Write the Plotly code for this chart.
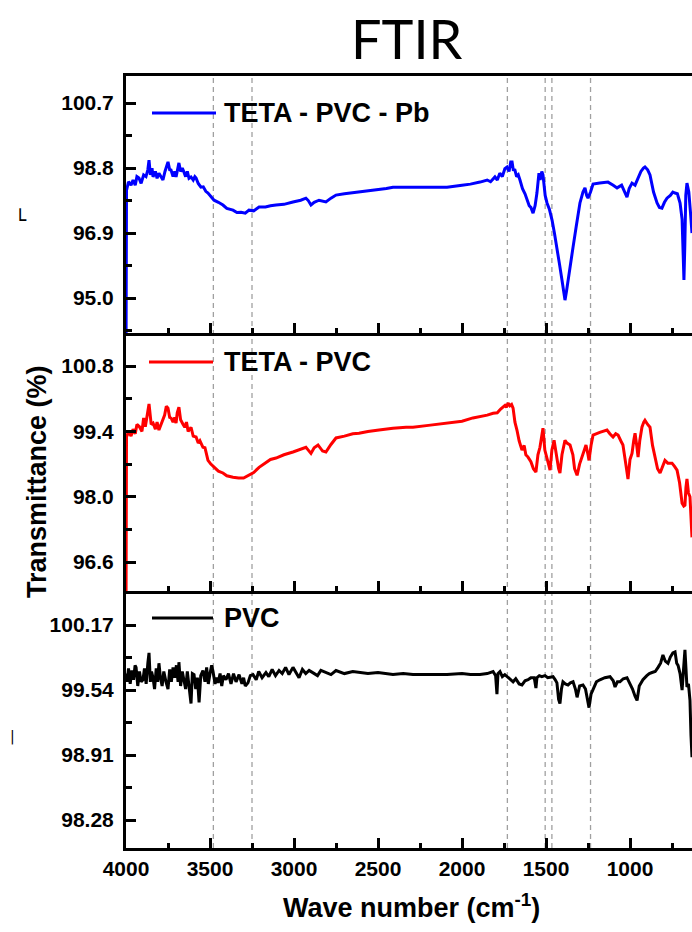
import plotly.graph_objects as go

# ---------------- data ----------------
wn_pb = [4000, 3997, 3985, 3970, 3958, 3945, 3935, 3923, 3910, 3895, 3881, 3870, 3863, 3855, 3845, 3839,
         3825, 3815, 3804, 3792, 3780, 3768, 3750, 3740, 3732, 3720, 3710, 3702, 3692, 3685, 3675, 3665,
         3655, 3645, 3635, 3625, 3613, 3600, 3590, 3583, 3570, 3554, 3540, 3525, 3512, 3495, 3476, 3450,
         3423, 3400, 3380, 3363, 3340, 3315, 3290, 3268, 3240, 3208, 3170, 3140, 3107, 3060, 3006, 2960,
         2929, 2915, 2899, 2880, 2851, 2830, 2810, 2780, 2750, 2700, 2650, 2613, 2560, 2494, 2450, 2411,
         2333, 2292, 2200, 2089, 2000, 1950, 1893, 1850, 1830, 1804, 1790, 1775, 1760, 1745, 1732, 1720,
         1710, 1702, 1695, 1685, 1675, 1665, 1655, 1640, 1625, 1613, 1600, 1590, 1577, 1565, 1554, 1542,
         1535, 1525, 1518, 1505, 1494, 1480, 1464, 1450, 1435, 1420, 1405, 1395, 1387, 1378, 1369, 1355,
         1339, 1320, 1298, 1280, 1268, 1258, 1250, 1235, 1220, 1180, 1131, 1100, 1077, 1050, 1030, 1018,
         1005, 988, 970, 952, 935, 920, 911, 895, 881, 860, 839, 825, 810, 795, 780, 760,
         745, 732, 718, 702, 690, 683, 679, 674, 668, 661, 650, 640, 631]
t_pb = [93.0, 98.15, 98.40, 98.30, 98.45, 98.30, 98.55, 98.51, 98.35, 98.60, 98.55, 98.75, 99.03, 98.60, 98.80, 98.54,
        98.70, 98.50, 98.65, 98.55, 98.45, 98.70, 98.98, 98.75, 98.74, 98.55, 98.70, 98.54, 98.80, 98.95, 98.70, 98.80,
        98.68, 98.55, 98.70, 98.50, 98.54, 98.45, 98.55, 98.51, 98.35, 98.24, 98.25, 98.12, 98.07, 97.98, 97.86, 97.80,
        97.72, 97.62, 97.60, 97.57, 97.50, 97.51, 97.48, 97.57, 97.55, 97.66, 97.66, 97.70, 97.72, 97.74, 97.81, 97.86,
        97.92, 97.85, 97.72, 97.80, 97.86, 97.84, 97.81, 97.92, 98.01, 98.05, 98.08, 98.10, 98.13, 98.16, 98.20, 98.24,
        98.24, 98.24, 98.24, 98.24, 98.30, 98.33, 98.39, 98.45, 98.40, 98.54, 98.45, 98.65, 98.55, 98.78, 98.83, 98.70,
        98.98, 98.98, 98.75, 98.74, 98.55, 98.60, 98.45, 98.20, 98.05, 97.86, 97.70, 97.65, 97.48, 97.70, 98.07, 98.65,
        98.45, 98.70, 98.60, 98.00, 97.78, 97.60, 97.28, 96.90, 96.49, 96.00, 95.53, 95.10, 94.94, 95.20, 95.53, 96.00,
        96.49, 97.10, 97.78, 98.10, 98.22, 98.00, 97.92, 98.10, 98.33, 98.36, 98.39, 98.30, 98.22, 98.30, 98.05, 97.95,
        98.20, 98.36, 98.30, 98.51, 98.70, 98.80, 98.83, 98.75, 98.60, 98.10, 97.78, 97.65, 97.63, 97.80, 97.92, 98.00,
        98.10, 98.07, 98.05, 97.78, 97.30, 96.20, 95.53, 96.50, 98.00, 98.36, 98.10, 97.50, 96.90]

wn_teta = [4000, 3997, 3985, 3970, 3958, 3945, 3935, 3920, 3905, 3895, 3885, 3872, 3863, 3850, 3839, 3825,
           3815, 3804, 3790, 3780, 3770, 3760, 3750, 3740, 3732, 3720, 3710, 3702, 3695, 3685, 3675, 3660,
           3650, 3640, 3630, 3613, 3600, 3583, 3570, 3560, 3542, 3530, 3512, 3495, 3476, 3450, 3423, 3400,
           3363, 3330, 3300, 3270, 3240, 3208, 3170, 3140, 3107, 3060, 3006, 2960, 2929, 2915, 2899, 2880,
           2857, 2830, 2810, 2780, 2750, 2700, 2650, 2613, 2560, 2494, 2411, 2333, 2292, 2200, 2089, 2000,
           1935, 1880, 1850, 1815, 1790, 1770, 1744, 1735, 1726, 1715, 1705, 1696, 1685, 1673, 1660, 1643,
           1630, 1620, 1607, 1590, 1575, 1560, 1548, 1536, 1527, 1518, 1507, 1494, 1485, 1476, 1465, 1452,
           1442, 1435, 1425, 1417, 1405, 1387, 1375, 1357, 1340, 1330, 1315, 1300, 1286, 1270, 1262, 1250,
           1244, 1232, 1220, 1180, 1137, 1120, 1101, 1085, 1071, 1055, 1042, 1025, 1012, 1000, 988, 978,
           970, 960, 952, 942, 929, 918, 911, 895, 881, 866, 851, 836, 821, 806, 792, 775,
           750, 735, 720, 705, 690, 680, 673, 667, 661, 652, 643, 631]
t_teta = [95.5, 99.28, 99.40, 99.30, 99.45, 99.35, 99.55, 99.50, 99.40, 99.69, 99.50, 99.80, 99.99, 99.55, 99.58, 99.45,
          99.60, 99.43, 99.55, 99.65, 99.75, 99.94, 99.90, 99.70, 99.69, 99.60, 99.70, 99.58, 99.80, 99.92, 99.65, 99.55,
          99.49, 99.60, 99.40, 99.49, 99.30, 99.28, 99.15, 99.20, 99.06, 99.05, 98.78, 98.70, 98.63, 98.55, 98.51, 98.45,
          98.42, 98.40, 98.40, 98.46, 98.52, 98.63, 98.72, 98.80, 98.83, 98.90, 98.96, 99.03, 99.06, 99.00, 98.93, 99.05,
          99.11, 98.98, 98.96, 99.12, 99.26, 99.30, 99.35, 99.36, 99.40, 99.43, 99.47, 99.49, 99.49, 99.53, 99.58, 99.62,
          99.69, 99.72, 99.75, 99.79, 99.80, 99.88, 99.96, 99.92, 100.01, 99.95, 99.98, 99.90, 99.60, 99.43, 99.20, 99.00,
          99.10, 98.90, 98.85, 98.75, 98.60, 98.53, 98.90, 99.06, 99.30, 99.47, 99.00, 98.78, 98.70, 98.57, 99.00, 99.21,
          99.00, 98.78, 98.60, 98.51, 98.90, 99.21, 99.15, 99.11, 98.90, 98.60, 98.46, 98.70, 98.85, 99.05, 99.11, 98.90,
          98.78, 99.10, 99.32, 99.38, 99.43, 99.35, 99.28, 99.35, 99.32, 99.20, 99.11, 98.70, 98.38, 98.80, 98.93, 99.20,
          99.36, 99.10, 98.85, 99.20, 99.49, 99.60, 99.64, 99.55, 99.49, 99.10, 98.85, 98.60, 98.51, 98.65, 98.78, 98.72,
          98.72, 98.65, 98.57, 98.30, 97.86, 97.80, 97.82, 98.20, 98.38, 98.08, 98.00, 97.13]

wn_pvc = [4000, 3993, 3985, 3975, 3965, 3955, 3946, 3940, 3930, 3920, 3910, 3899, 3890, 3880, 3870, 3863,
          3855, 3848, 3839, 3830, 3820, 3812, 3804, 3795, 3785, 3775, 3762, 3750, 3740, 3730, 3720, 3710,
          3700, 3690, 3685, 3675, 3665, 3655, 3645, 3635, 3625, 3613, 3605, 3595, 3585, 3575, 3565, 3555,
          3542, 3530, 3520, 3510, 3500, 3490, 3482, 3470, 3460, 3452, 3440, 3430, 3420, 3405, 3390, 3375,
          3360, 3345, 3327, 3310, 3300, 3290, 3274, 3260, 3244, 3225, 3210, 3190, 3167, 3150, 3130, 3110,
          3089, 3070, 3050, 3030, 3006, 2990, 2970, 2950, 2930, 2910, 2887, 2860, 2840, 2810, 2780, 2750,
          2700, 2650, 2613, 2560, 2500, 2411, 2350, 2292, 2200, 2089, 2000, 1950, 1893, 1850, 1815, 1800,
          1792, 1786, 1774, 1760, 1745, 1732, 1715, 1696, 1680, 1660, 1643, 1625, 1607, 1590, 1570, 1560,
          1554, 1540, 1525, 1506, 1490, 1470, 1458, 1445, 1435, 1425, 1417, 1408, 1399, 1385, 1369, 1355,
          1339, 1325, 1315, 1300, 1280, 1265, 1255, 1244, 1232, 1220, 1200, 1179, 1150, 1119, 1100, 1089,
          1075, 1060, 1040, 1018, 1000, 985, 970, 958, 945, 923, 900, 885, 869, 850, 833, 818,
          804, 790, 774, 760, 745, 732, 722, 714, 702, 690, 681, 673, 667, 661, 652, 643, 637, 631]
t_pvc = [99.70, 99.62, 99.75, 99.60, 99.73, 99.64, 99.78, 99.76, 99.58, 99.72, 99.62, 99.64, 99.75, 99.60, 99.80, 99.90,
         99.62, 99.72, 99.66, 99.55, 99.75, 99.62, 99.80, 99.66, 99.58, 99.72, 99.62, 99.55, 99.74, 99.62, 99.76, 99.66,
         99.78, 99.62, 99.81, 99.58, 99.72, 99.64, 99.55, 99.72, 99.58, 99.41, 99.70, 99.69, 99.55, 99.66, 99.42, 99.68,
         99.73, 99.62, 99.76, 99.60, 99.70, 99.78, 99.72, 99.60, 99.66, 99.61, 99.70, 99.58, 99.68, 99.64, 99.70, 99.60,
         99.70, 99.62, 99.69, 99.60, 99.66, 99.58, 99.61, 99.68, 99.69, 99.64, 99.72, 99.66, 99.71, 99.67, 99.74, 99.68,
         99.73, 99.70, 99.76, 99.69, 99.76, 99.72, 99.66, 99.74, 99.70, 99.73, 99.71, 99.68, 99.73, 99.71, 99.69, 99.73,
         99.70, 99.72, 99.71, 99.70, 99.71, 99.69, 99.70, 99.69, 99.69, 99.69, 99.70, 99.69, 99.69, 99.70, 99.72, 99.68,
         99.50, 99.70, 99.72, 99.67, 99.69, 99.67, 99.65, 99.62, 99.65, 99.60, 99.59, 99.63, 99.64, 99.66, 99.66, 99.56,
         99.66, 99.68, 99.67, 99.68, 99.66, 99.67, 99.67, 99.64, 99.61, 99.45, 99.41, 99.55, 99.62, 99.60, 99.59, 99.61,
         99.62, 99.55, 99.47, 99.58, 99.59, 99.55, 99.45, 99.37, 99.50, 99.54, 99.62, 99.64, 99.66, 99.67, 99.63, 99.57,
         99.62, 99.62, 99.65, 99.66, 99.60, 99.55, 99.48, 99.44, 99.58, 99.64, 99.68, 99.70, 99.71, 99.72, 99.76, 99.80,
         99.88, 99.82, 99.80, 99.86, 99.90, 99.91, 99.80, 99.78, 99.70, 99.54, 99.75, 99.93, 99.75, 99.57, 99.60, 99.44, 99.10, 98.89]

band_positions = [3480, 3250, 1730, 1505, 1465, 1235]
series_names = ["TETA - PVC - Pb", "TETA - PVC", "PVC"]
x_range = [4000, 631]

# ---------------- figure ----------------
W, H = 692, 932
L, R, T, B = 126, 0, 76, 84
PH = H - T - B  # 772
PW = W - L - R  # 566


def px_x(p):
    return (p - L) / PW


def px_y(p):
    return (H - B - p) / PH


FONT = "Liberation Sans, Arial, sans-serif"
d1 = 257 / PH
d2 = 515 / PH

fig = go.Figure()
fig.add_trace(go.Scatter(x=wn_pb, y=t_pb, xaxis="x3", yaxis="y3", mode="lines",
                         line=dict(color="#0000ff", width=3), name=series_names[0], showlegend=False))
fig.add_trace(go.Scatter(x=wn_teta, y=t_teta, xaxis="x2", yaxis="y2", mode="lines",
                         line=dict(color="#ff0000", width=3), name=series_names[1], showlegend=False))
fig.add_trace(go.Scatter(x=wn_pvc, y=t_pvc, xaxis="x", yaxis="y", mode="lines",
                         line=dict(color="#000000", width=3), name=series_names[2], showlegend=False))

xcommon = dict(range=x_range, showline=True, linecolor="black", linewidth=3,
               ticks="inside", ticklen=10, tickwidth=2.5, tickcolor="black",
               tick0=0, dtick=500, showgrid=False, zeroline=False,
               minor=dict(ticks="inside", ticklen=5, tickwidth=2.5, tickcolor="black",
                          tick0=0, dtick=250, showgrid=False))
fig.update_layout(
    xaxis=dict(**xcommon, anchor="y", showticklabels=True,
               tickfont=dict(family=FONT, size=21, color="black", weight="bold"),
               ticklabelstandoff=0),
    xaxis2=dict(**xcommon, anchor="y2", matches="x", showticklabels=False),
    xaxis3=dict(**xcommon, anchor="y3", matches="x", showticklabels=False, mirror=True),
)

ycommon = dict(showline=True, linecolor="black", linewidth=3, ticks="inside", ticklen=10,
               tickwidth=2.5, tickcolor="black", showgrid=False, zeroline=False,
               tickfont=dict(family=FONT, size=21, color="black", weight="bold"),
               ticklabelstandoff=5)
fig.update_layout(
    yaxis=dict(**ycommon, domain=[0, d1], anchor="x", range=[98.01, 100.50],
               tick0=98.28, dtick=0.63, tickformat=".2f",
               minor=dict(ticks="inside", ticklen=6, tickwidth=2.5, tickcolor="black",
                          tick0=98.28, dtick=0.315, showgrid=False)),
    yaxis2=dict(**ycommon, domain=[d1, d2], anchor="x2", range=[95.98, 101.51],
                tick0=96.6, dtick=1.4, tickformat=".1f",
                minor=dict(ticks="inside", ticklen=6, tickwidth=2.5, tickcolor="black",
                           tick0=96.6, dtick=0.7, showgrid=False)),
    yaxis3=dict(**ycommon, domain=[d2, 1], anchor="x3", range=[93.98, 101.49],
                tick0=95.0, dtick=1.9, tickformat=".1f",
                minor=dict(ticks="inside", ticklen=6, tickwidth=2.5, tickcolor="black",
                           tick0=95.0, dtick=0.95, showgrid=False)),
)

shapes = []
for b in band_positions:
    shapes.append(dict(type="line", xref="x", yref="paper", x0=b, x1=b, y0=0, y1=1,
                       line=dict(color="#a0a0a0", width=1.3, dash="5px,4px"), layer="below"))

# legend line samples
leg = [(152, 216, 113, "#0000ff"), (149, 213, 362, "#ff0000"), (152, 213, 618, "#000000")]
for x0, x1, yy, c in leg:
    shapes.append(dict(type="line", xref="paper", yref="paper", x0=px_x(x0), x1=px_x(x1),
                       y0=px_y(yy), y1=px_y(yy), line=dict(color=c, width=3)))

annotations = []
for (x0, x1, yy, c), name in zip(leg, series_names):
    annotations.append(dict(text=name, xref="paper", yref="paper", x=px_x(222), y=px_y(yy),
                            xanchor="left", yanchor="middle", showarrow=False,
                            font=dict(family=FONT, size=27, color="black", weight="bold")))

annotations.append(dict(text="FTIR", xref="paper", yref="paper", x=px_x(407), y=px_y(38),
                        xanchor="center", yanchor="middle", showarrow=False,
                        font=dict(family="Lato, sans-serif", size=54, color="black")))
annotations.append(dict(text="Wave number (cm<sup>-1</sup>)", xref="paper", yref="paper",
                        x=px_x(411), y=px_y(906), xanchor="center", yanchor="middle", showarrow=False,
                        font=dict(family=FONT, size=27, color="black", weight="bold")))
annotations.append(dict(text="Transmittance (%)", xref="paper", yref="paper",
                        x=px_x(37), y=px_y(482), xanchor="center", yanchor="middle", showarrow=False,
                        textangle=-90,
                        font=dict(family=FONT, size=27, color="black", weight="bold")))
# small cropped remnants on the left edge
annotations.append(dict(text="\u2514", xref="paper", yref="paper", x=px_x(20), y=px_y(220),
                        xanchor="center", yanchor="middle", showarrow=False,
                        font=dict(family="DejaVu Sans Mono", size=20, color="black")))
annotations.append(dict(text="|", xref="paper", yref="paper", x=px_x(12), y=px_y(736),
                        xanchor="center", yanchor="middle", showarrow=False,
                        font=dict(family="DejaVu Sans", size=14, color="black")))

fig.update_layout(
    width=W, height=H,
    margin=dict(l=L, r=R, t=T, b=B, pad=0),
    paper_bgcolor="white", plot_bgcolor="rgba(0,0,0,0)",
    showlegend=False,
    shapes=shapes, annotations=annotations,
)

fig.write_html("out.html")
